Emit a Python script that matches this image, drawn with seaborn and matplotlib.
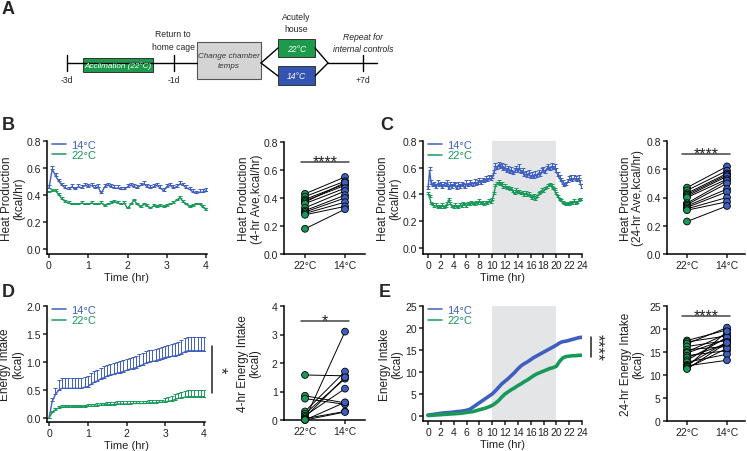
import numpy as np
import pandas as pd
import matplotlib
matplotlib.use("Agg")
import matplotlib.pyplot as plt
import seaborn as sns
from matplotlib.patches import Rectangle

sns.set_style("ticks")
plt.rcParams["font.family"] = ["Liberation Sans", "DejaVu Sans"]
plt.rcParams["axes.linewidth"] = 1.1
plt.rcParams["xtick.major.width"] = 1.1
plt.rcParams["ytick.major.width"] = 1.1
plt.rcParams["xtick.major.size"] = 3
plt.rcParams["ytick.major.size"] = 3

BLUE = "#3F5FBF"
GREEN = "#18995A"
BOX_GREEN = "#1E9A4C"
BOX_BLUE = "#3553B0"
SHADE = "#E4E5E7"

W, H = 747, 452

# ---- data ----
# B: heat production, 4 hr, 5-min bins
b_14 = [0.45, 0.59, 0.54, 0.50, 0.47, 0.45, 0.44,
        0.46, 0.44, 0.46, 0.45, 0.47, 0.46, 0.47,
        0.45, 0.46, 0.41, 0.46, 0.47, 0.46, 0.45,
        0.45, 0.44, 0.44, 0.46, 0.47, 0.46, 0.45,
        0.47, 0.48, 0.46, 0.45, 0.46, 0.47, 0.45,
        0.43, 0.46, 0.47, 0.45, 0.46, 0.48, 0.47,
        0.45, 0.44, 0.42, 0.41, 0.42, 0.42, 0.43]
b_22 = [0.42, 0.43, 0.43, 0.40, 0.37, 0.35, 0.34,
        0.33, 0.33, 0.33, 0.34, 0.33, 0.33, 0.34,
        0.33, 0.33, 0.34, 0.32, 0.33, 0.34, 0.35,
        0.34, 0.33, 0.34, 0.30, 0.33, 0.36, 0.33,
        0.31, 0.33, 0.32, 0.30, 0.32, 0.31, 0.32,
        0.31, 0.32, 0.33, 0.34, 0.36, 0.38, 0.35,
        0.33, 0.31, 0.32, 0.33, 0.33, 0.31, 0.29]
b_sem_14 = 0.02
b_sem_22 = 0.012

b_pair_22 = [0.43, 0.41, 0.39, 0.38, 0.37, 0.36, 0.33, 0.31, 0.30, 0.29, 0.28, 0.18]
b_pair_14 = [0.55, 0.52, 0.50, 0.49, 0.51, 0.47, 0.45, 0.42, 0.40, 0.37, 0.34, 0.32]

# C: heat production, 24 hr, 15-min bins
c_14 = [0.44, 0.58, 0.48, 0.46, 0.47,
        0.45, 0.48, 0.46, 0.47,
        0.45, 0.47, 0.46, 0.48,
        0.44, 0.47, 0.45, 0.47,
        0.46, 0.44, 0.47, 0.45,
        0.47, 0.46, 0.45, 0.48,
        0.46, 0.48, 0.47, 0.46,
        0.49, 0.47, 0.48, 0.50,
        0.48, 0.50, 0.49, 0.51,
        0.50, 0.52, 0.51, 0.52,
        0.56, 0.61, 0.59, 0.62,
        0.60, 0.61, 0.58, 0.60,
        0.57, 0.59, 0.56, 0.58,
        0.55, 0.57, 0.59, 0.57,
        0.60, 0.56, 0.57, 0.54,
        0.55, 0.53, 0.56, 0.52,
        0.54, 0.52, 0.55, 0.53,
        0.56, 0.54, 0.57, 0.58,
        0.56, 0.59, 0.60, 0.58,
        0.61, 0.59, 0.60, 0.57,
        0.54, 0.52, 0.50, 0.48,
        0.46, 0.47, 0.49, 0.51,
        0.52, 0.50, 0.52, 0.51,
        0.50, 0.52, 0.48, 0.45]
c_22 = [0.40, 0.38, 0.33, 0.32, 0.31,
        0.32, 0.30, 0.31, 0.30,
        0.32, 0.30, 0.31, 0.33,
        0.36, 0.33, 0.31, 0.30,
        0.32, 0.31, 0.30, 0.32,
        0.31, 0.33, 0.32, 0.31,
        0.33, 0.32, 0.34, 0.33,
        0.32, 0.34, 0.33, 0.35,
        0.33, 0.34, 0.32, 0.34,
        0.33, 0.35, 0.34, 0.36,
        0.40, 0.46, 0.48, 0.49,
        0.47, 0.48, 0.45, 0.46,
        0.44, 0.45, 0.43, 0.44,
        0.42, 0.40, 0.43, 0.41,
        0.42, 0.40, 0.41, 0.39,
        0.41, 0.39, 0.40, 0.38,
        0.37, 0.39, 0.36, 0.38,
        0.40, 0.41, 0.43, 0.42,
        0.44, 0.45, 0.46, 0.47,
        0.46, 0.44, 0.43, 0.40,
        0.38, 0.36, 0.35, 0.34,
        0.33, 0.32, 0.33, 0.32,
        0.34, 0.33, 0.35, 0.33,
        0.34, 0.35, 0.36, 0.36]
c_sem_14 = 0.025
c_sem_22 = 0.015

c_pair_22 = [0.47, 0.45, 0.43, 0.42, 0.41, 0.40, 0.36, 0.35, 0.34, 0.33, 0.32, 0.31, 0.23]
c_pair_14 = [0.62, 0.59, 0.57, 0.56, 0.55, 0.53, 0.52, 0.50, 0.46, 0.44, 0.40, 0.37, 0.34]

# D: cumulative energy intake, 4 hr, 5-min bins
d_14 = [0.00, 0.30, 0.42, 0.50, 0.53, 0.53, 0.53,
        0.53, 0.53, 0.53, 0.53, 0.55, 0.56, 0.60,
        0.64, 0.66, 0.70, 0.72, 0.75, 0.77, 0.78,
        0.80, 0.81, 0.83, 0.85, 0.87, 0.88, 0.90,
        0.93, 0.95, 0.98, 1.00, 1.01, 1.02, 1.04,
        1.06, 1.08, 1.09, 1.10, 1.11, 1.12, 1.15,
        1.18, 1.20, 1.20, 1.20, 1.20, 1.20, 1.20]
d_sem_14 = [0.00, 0.06, 0.12, 0.17, 0.19, 0.19, 0.19,
            0.19, 0.19, 0.19, 0.19, 0.19, 0.19, 0.20,
            0.20, 0.20, 0.20, 0.20, 0.20, 0.20, 0.20,
            0.20, 0.20, 0.20, 0.20, 0.21, 0.21, 0.21,
            0.21, 0.21, 0.21, 0.21, 0.21, 0.21, 0.21,
            0.21, 0.21, 0.22, 0.22, 0.23, 0.23, 0.24,
            0.24, 0.25, 0.25, 0.25, 0.25, 0.25, 0.25]
d_22 = [0.00, 0.10, 0.15, 0.18, 0.19, 0.20, 0.20,
        0.20, 0.20, 0.20, 0.20, 0.20, 0.21, 0.21,
        0.21, 0.22, 0.23, 0.23, 0.24, 0.24, 0.24,
        0.25, 0.25, 0.25, 0.25, 0.25, 0.26, 0.26,
        0.26, 0.26, 0.26, 0.27, 0.27, 0.27, 0.28,
        0.28, 0.29, 0.30, 0.31, 0.33, 0.35, 0.36,
        0.37, 0.38, 0.38, 0.38, 0.38, 0.38, 0.38]
d_sem_22 = [0.00, 0.02, 0.03, 0.04, 0.04, 0.04, 0.04,
            0.04, 0.04, 0.04, 0.04, 0.04, 0.04, 0.04,
            0.04, 0.04, 0.04, 0.04, 0.04, 0.05, 0.05,
            0.05, 0.05, 0.05, 0.05, 0.05, 0.05, 0.05,
            0.05, 0.05, 0.05, 0.05, 0.05, 0.05, 0.05,
            0.05, 0.06, 0.07, 0.08, 0.09, 0.10, 0.11,
            0.12, 0.12, 0.12, 0.12, 0.12, 0.12, 0.12]

d_pair_22 = [1.58, 0.85, 0.75, 0.30, 0.22, 0.15, 0.10, 0.05, 0.02, 0.00, 0.00]
d_pair_14 = [1.55, 0.60, 0.55, 1.70, 1.45, 1.10, 1.50, 0.30, 3.10, 0.62, 0.28]

# E: cumulative energy intake, 24 hr, 30-min bins
e_14 = [0.2, 0.3, 0.4, 0.5, 0.6, 0.7, 0.75, 0.8, 0.9, 1.0,
        1.05, 1.15, 1.3, 1.5, 2.0, 2.5, 3.0, 3.5, 4.0, 4.5,
        5.0, 5.7, 6.5, 7.3, 7.9, 8.5, 9.2, 9.9, 10.7, 11.4,
        11.9, 12.3, 12.8, 13.3, 13.7, 14.1, 14.5, 14.9, 15.3, 15.7,
        16.1, 16.6, 16.9, 17.0, 17.2, 17.4, 17.6, 17.8, 17.9]
e_22 = [0.1, 0.15, 0.2, 0.25, 0.3, 0.35, 0.4, 0.45, 0.5, 0.55,
        0.6, 0.7, 0.8, 0.9, 1.0, 1.2, 1.4, 1.6, 1.8, 2.1,
        2.4, 2.9, 3.5, 4.3, 5.0, 5.5, 6.0, 6.4, 6.9, 7.3,
        7.8, 8.2, 8.7, 9.2, 9.6, 9.9, 10.2, 10.5, 10.8, 11.0,
        11.3, 12.4, 13.2, 13.5, 13.6, 13.7, 13.7, 13.8, 13.8]

e_pair_22 = [17.5, 17.2, 16.8, 16.2, 15.5, 15.0, 14.8, 14.2,
             13.8, 13.2, 12.8, 12.2, 12.0, 11.8, 11.5, 11.3]
e_pair_14 = [19.8, 18.5, 20.3, 17.5, 16.2, 19.0, 17.8, 15.3,
             16.8, 18.2, 14.5, 17.2, 13.2, 19.5, 15.8, 17.0]

temps = ["22°C", "14°C"]


def px_axes(fig, x0, y0, x1, y1):
    # pixel box (left, top, right, bottom) -> figure axes
    return fig.add_axes([x0 / W, 1 - y1 / H, (x1 - x0) / W, (y1 - y0) / H])


def style_ax(ax):
    sns.despine(ax=ax)
    ax.tick_params(direction="out", labelsize=7.5, pad=1.5, colors="#222222")
    for s in ("left", "bottom"):
        ax.spines[s].set_color("black")


def set_ylab(ax, text, xfrac):
    ax.set_ylabel(text, fontsize=8.5, linespacing=1.05, color="#222222")
    ax.yaxis.set_label_coords(xfrac, 0.5)


def time_panel(ax, step, y14, y22, e14=None, e22=None, lw=1.0):
    t14 = np.arange(len(y14)) * step
    t22 = np.arange(len(y22)) * step
    sns.lineplot(x=t14, y=y14, color=BLUE, lw=lw, label="14°C", ax=ax)
    sns.lineplot(x=t22, y=y22, color=GREEN, lw=lw, label="22°C", ax=ax)
    if e14 is not None:
        err = np.broadcast_to(np.asarray(e14, float), t14.shape)
        ax.errorbar(t14, y14, yerr=[np.zeros_like(err), err], fmt="none",
                    ecolor=BLUE, elinewidth=0.7, capsize=1.4, capthick=0.7)
        err = np.broadcast_to(np.asarray(e22, float), t22.shape)
        ax.errorbar(t22, y22, yerr=[np.zeros_like(err), err], fmt="none",
                    ecolor=GREEN, elinewidth=0.7, capsize=1.4, capthick=0.7)
    leg = ax.legend(loc="upper left", bbox_to_anchor=(0.03, 1.01), frameon=False,
                    fontsize=8, handlelength=1.25, handletextpad=0.5,
                    labelspacing=0.05, labelcolor="linecolor", borderaxespad=0,
                    borderpad=0)
    for h in leg.legend_handles:
        h.set_linewidth(1.1)
    ax.set_xlabel("Time (hr)", fontsize=8, labelpad=1, color="#222222")
    style_ax(ax)


def paired_panel(ax, v22, v14):
    n = len(v22)
    df = pd.DataFrame({
        "mouse": list(range(n)) * 2,
        "temp": [temps[0]] * n + [temps[1]] * n,
        "x": [0] * n + [1] * n,
        "value": list(v22) + list(v14),
    })
    sns.lineplot(data=df, x="x", y="value", units="mouse", estimator=None,
                 color="black", lw=0.7, ax=ax, legend=False)
    sns.scatterplot(data=df, x="x", y="value", hue="temp",
                    palette={temps[0]: GREEN, temps[1]: BLUE}, s=24,
                    edgecolor="black", linewidth=0.6, legend=False, ax=ax,
                    zorder=3, clip_on=False)
    ax.set_xticks([0, 1])
    ax.set_xticklabels(temps)
    ax.set_xlim(-0.525, 1.5)
    ax.set_xlabel("")
    style_ax(ax)


def sig(ax, y, text, x0=-0.1, x1=1.1):
    ax.plot([x0, x1], [y, y], color="#444444", lw=1.1, clip_on=False)
    ax.annotate(text, xy=((x0 + x1) / 2, y), xytext=(0, -3),
                textcoords="offset points", ha="center", va="baseline",
                fontsize=11.5, color="#222222")


fig = plt.figure(figsize=(W / 100, H / 100), dpi=100)

# ---- panel A (timeline) ----
ax0 = fig.add_axes([0, 0, 1, 1])
ax0.set_xlim(0, W)
ax0.set_ylim(H, 0)
ax0.axis("off")
kw = dict(color="black", lw=1.0)
ax0.plot([67, 197], [64, 64], **kw)
ax0.plot([328, 377], [64, 64], **kw)
for x in (67, 174, 363):
    ax0.plot([x, x], [56, 72], **kw)
ax0.plot([261, 278], [64, 49], **kw)
ax0.plot([261, 278], [64, 77], **kw)
ax0.plot([315, 328], [49, 64], **kw)
ax0.plot([315, 328], [77, 64], **kw)
ax0.add_patch(Rectangle((83, 59), 70, 14, fc=BOX_GREEN, ec="#333333", lw=0.7))
ax0.add_patch(Rectangle((197, 43), 64, 37, fc="#D4D4D4", ec="#555555", lw=0.8))
ax0.add_patch(Rectangle((278, 40), 37, 18, fc=BOX_GREEN, ec="#333333", lw=0.7))
ax0.add_patch(Rectangle((278, 67), 37, 19, fc=BOX_BLUE, ec="#333333", lw=0.7))
tk = dict(ha="center", va="center", fontsize=6.2)
ax0.text(118, 66, "Acclimation (22°C)", color="white", style="italic",
         ha="center", va="center", fontsize=5.9)
ax0.text(229, 61.5, "Change chamber\ntemps", color="#333333", style="italic",
         linespacing=1.45, ha="center", va="center", fontsize=5.8)
ax0.text(296.5, 49, "22°C", color="white", style="italic", **tk)
ax0.text(296.5, 76.5, "14°C", color="white", style="italic", **tk)
ax0.text(296, 23.5, "Acutely\nhouse", linespacing=1.45, **tk)
ax0.text(173, 41, "Return to\nhome cage", linespacing=1.45, **tk)
ax0.text(363, 43.5, "Repeat for\ninternal controls", style="italic",
         linespacing=1.45, **tk)
for x, lab in ((67, "-3d"), (174, "-1d"), (363, "+7d")):
    ax0.text(x, 80.5, lab, **tk)

lk = dict(fontsize=13, fontweight="bold", ha="left", va="center")
ax0.text(2, 9, "A", **lk)
ax0.text(2, 125, "B", **lk)
ax0.text(380, 125, "C", **lk)
ax0.text(2, 293, "D", **lk)
ax0.text(379, 293, "E", **lk)

# ---- B ----
axB = px_axes(fig, 47, 141.7, 206.5, 255)
time_panel(axB, 1 / 12, b_14, b_22, b_sem_14, b_sem_22)
axB.set_xlim(-0.05, 4.01)
axB.set_ylim(-0.037, 0.8)
axB.set_xticks([0, 1, 2, 3, 4])
axB.set_yticks([0, 0.2, 0.4, 0.6, 0.8])
axB.yaxis.set_major_formatter("{x:.1f}")
set_ylab(axB, "Heat Production\n(kcal/hr)", -0.138)

axB2 = px_axes(fig, 284, 143, 365, 255)
paired_panel(axB2, b_pair_22, b_pair_14)
axB2.set_ylim(0, 0.8)
axB2.set_yticks([0, 0.2, 0.4, 0.6, 0.8])
axB2.yaxis.set_major_formatter("{x:.1f}")
set_ylab(axB2, "Heat Production\n(4-hr Ave,kcal/hr)", -0.26)
sig(axB2, 0.657, "****")

# ---- C ----
axC = px_axes(fig, 423, 142, 582.3, 255)
axC.axvspan(10, 20, color=SHADE, lw=0, zorder=0)
time_panel(axC, 0.25, c_14, c_22, c_sem_14, c_sem_22)
axC.set_xlim(-0.78, 24.05)
axC.set_ylim(-0.045, 0.8)
axC.set_xticks(range(0, 25, 2))
axC.set_yticks([0, 0.2, 0.4, 0.6, 0.8])
axC.yaxis.set_major_formatter("{x:.1f}")
set_ylab(axC, "Heat Production\n(kcal/hr)", -0.135)

axC2 = px_axes(fig, 667, 142, 745, 255)
paired_panel(axC2, c_pair_22, c_pair_14)
axC2.set_xlim(-0.5, 1.45)
axC2.set_ylim(0, 0.8)
axC2.set_yticks([0, 0.2, 0.4, 0.6, 0.8])
axC2.yaxis.set_major_formatter("{x:.1f}")
set_ylab(axC2, "Heat Production\n(24-hr Ave,kcal/hr)", -0.295)
sig(axC2, 0.71, "****", -0.125, 1.075)

# ---- D ----
axD = px_axes(fig, 47, 307, 205, 423)
time_panel(axD, 1 / 12, d_14, d_22, d_sem_14, d_sem_22)
axD.set_xlim(-0.052, 4.026)
axD.set_ylim(-0.071, 2.0)
axD.set_xticks([0, 1, 2, 3, 4])
axD.set_yticks([0, 0.5, 1.0, 1.5, 2.0])
axD.yaxis.set_major_formatter("{x:.1f}")
set_ylab(axD, "Energy Intake\n(kcal)", -0.146)
axD.plot([4.2, 4.2], [0.45, 1.29], color="#222222", lw=1.1, clip_on=False)
axD.text(4.42, 0.87, "*", rotation=-90, ha="center", va="center", fontsize=12)

axD2 = px_axes(fig, 284, 307, 365, 421)
paired_panel(axD2, d_pair_22, d_pair_14)
axD2.set_ylim(0, 4)
axD2.set_yticks([0, 1, 2, 3, 4])
set_ylab(axD2, "4-hr Energy Intake\n(kcal)", -0.284)
sig(axD2, 3.47, "*")

# ---- E ----
axE = px_axes(fig, 423, 307, 582, 422)
axE.axvspan(10, 20, color=SHADE, lw=0, zorder=0)
time_panel(axE, 0.5, e_14, e_22, lw=2.6)
axE.set_xlim(-0.78, 24.0)
axE.set_ylim(-1.14, 25)
axE.set_xticks(range(0, 25, 2))
axE.set_yticks(range(0, 26, 5))
set_ylab(axE, "Energy Intake\n(kcal)", -0.126)
axE.plot([25.4, 25.4], [13.4, 18.0], color="#222222", lw=1.1, clip_on=False)
axE.text(26.4, 15.7, "****", rotation=-90, ha="center", va="center", fontsize=12.5)

axE2 = px_axes(fig, 667, 307, 745, 422)
paired_panel(axE2, e_pair_22, e_pair_14)
axE2.set_xlim(-0.5, 1.45)
axE2.set_ylim(0, 25)
axE2.set_yticks(range(0, 26, 5))
set_ylab(axE2, "24-hr Energy Intake\n(kcal)", -0.295)
sig(axE2, 22.8, "****", -0.125, 1.075)

fig.savefig("out.png", dpi=100)
